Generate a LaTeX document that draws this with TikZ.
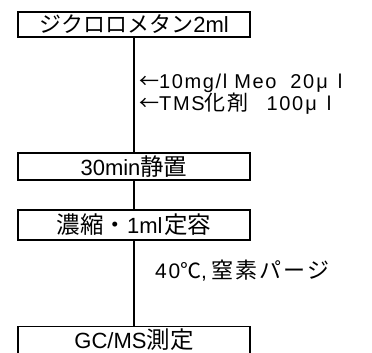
\documentclass[tikz,border=0pt]{standalone}
\usepackage{fontspec}
\setmainfont{Liberation Sans}
\newfontfamily\jp{Noto Sans CJK JP}
\newfontfamily\lblfont[LetterSpace=8]{Liberation Sans}
\newfontfamily\lbljp[LetterSpace=10]{Noto Sans CJK JP}
\newcommand{\bj}[1]{{\fontsize{23.5}{24}\selectfont\jp #1}}
\newcommand{\lj}[1]{{\fontsize{21}{22}\selectfont\lbljp #1}}
\begin{document}
\begin{tikzpicture}[x=1pt,y=-1pt,
  stepbox/.style={draw,line width=1.4pt,minimum width=232pt,inner sep=0pt,font=\fontsize{22}{24}\selectfont},
  lbl/.style={anchor=west,inner sep=0pt,font=\fontsize{20}{22}\selectfont\lblfont},
  conn/.style={line width=1.4pt}]
\useasboundingbox (0,0) rectangle (372,353);
\clip (0,0) rectangle (372,353);
\node[stepbox,minimum height=25pt] (b1) at (134,24.5) {{\jp ジクロロメタン}2ml};
\node[stepbox,minimum height=27pt] (b2) at (134,166.5) {30min\bj{静置}};
\node[stepbox,minimum height=30pt] (b3) at (134,225) {\bj{濃縮・}1ml\hspace{2pt}\bj{定容}};
\node[stepbox,minimum height=40pt,anchor=north] (b4) at (134,326) {};
\node[anchor=north,inner sep=0pt,font=\fontsize{22}{24}\selectfont] (t4) at (134,329) {GC/MS\bj{測定}};
\draw[conn] (b1.south) -- (b2.north);
\draw[conn] (b2.south) -- (b3.north);
\draw[conn] (b3.south) -- (b4.north);
\node[lbl] (l1) at (139,83) {{\lbljp ←}10mg/l Meo\hspace{14pt}20\hspace{2pt}μ\hspace{10pt}l};
\node[lbl] (l2) at (139,104) {{\lbljp ←}TMS\lj{化剤}\hspace{18pt}100\hspace{2pt}μ\hspace{10pt}l};
\node[lbl,font=\fontsize{21}{22}\selectfont\lblfont] (l3) at (155,271) {40\lj{℃},\hspace{4pt}{\fontsize{22}{22}\selectfont\lbljp 窒素パージ}};
\end{tikzpicture}
\end{document}
